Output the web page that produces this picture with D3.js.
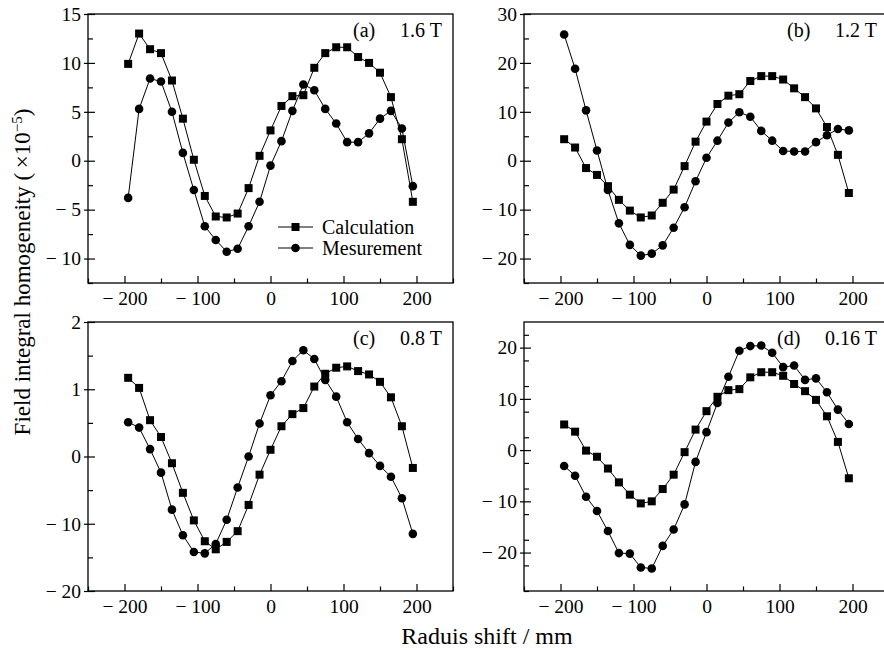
<!DOCTYPE html>
<html>
<head>
<meta charset="utf-8">
<script src="https://cdn.jsdelivr.net/npm/d3@7"></script>
<style>
  html, body { margin: 0; padding: 0; background: #fff; }
  svg { display: block; }
  text { font-family: "Liberation Serif", "Times New Roman", serif; fill: #000; }
</style>
</head>
<body>
<svg id="chart" width="884" height="650"></svg>
<script>
// ---------- Data ----------
const radius = [-195, -180, -165, -150, -135, -120, -105, -90, -75, -60, -45, -30, -15, 0,
                15, 30, 45, 60, 75, 90, 105, 120, 135, 150, 165, 180, 195];

const calcA = [9.9, 13.0, 11.4, 11.0, 8.2, 4.3, 0.1, -3.6, -5.7, -5.8, -5.4, -2.8, 0.5, 3.1,
               5.6, 6.6, 6.7, 9.5, 11.0, 11.6, 11.6, 10.6, 10.0, 9.0, 6.5, 2.2, -4.2];
const measA = [-3.8, 5.3, 8.4, 8.1, 5.0, 0.8, -3.0, -6.7, -8.1, -9.3, -9.0, -6.7, -4.2, -0.5,
               2.0, 5.1, 7.8, 7.2, 5.3, 3.8, 1.9, 1.9, 2.8, 4.3, 5.1, 3.3, -2.6];

const calcB = [4.4, 2.7, -1.5, -2.9, -5.2, -8.0, -10.2, -11.6, -11.2, -8.6, -5.9, -1.1, 3.9, 8.0,
               11.6, 13.3, 13.6, 16.3, 17.3, 17.3, 16.6, 14.8, 13.0, 10.7, 6.9, 1.2, -6.6];
const measB = [25.8, 18.8, 10.3, 2.1, -6.0, -12.8, -17.2, -19.4, -19.0, -17.3, -13.7, -9.5, -4.2, 0.6,
               4.1, 7.8, 9.9, 9.0, 6.1, 4.1, 2.0, 1.9, 1.9, 3.8, 5.2, 6.5, 6.2];

const calcC = [1.17, 1.02, 0.54, 0.29, -0.10, -0.54, -0.95, -1.26, -1.38, -1.27, -1.11, -0.72, -0.27, 0.10,
               0.45, 0.63, 0.72, 1.04, 1.23, 1.32, 1.34, 1.27, 1.22, 1.11, 0.88, 0.45, -0.17];
const measC = [0.51, 0.43, 0.11, -0.24, -0.79, -1.17, -1.42, -1.44, -1.30, -0.94, -0.46, 0.00, 0.49, 0.91,
               1.12, 1.42, 1.58, 1.45, 1.14, 0.89, 0.51, 0.26, 0.05, -0.14, -0.30, -0.62, -1.15];

const calcD = [5.0, 3.6, -0.1, -1.3, -3.6, -6.3, -8.7, -10.4, -10.0, -7.6, -4.8, -0.4, 4.0, 7.6,
               10.4, 11.7, 11.9, 14.2, 15.2, 15.2, 14.5, 12.9, 11.5, 9.8, 6.6, 1.6, -5.5];
const measD = [-3.1, -5.0, -9.1, -11.9, -15.8, -20.1, -20.2, -22.9, -23.1, -18.7, -15.5, -10.6, -2.3, 3.5,
               9.2, 14.3, 19.4, 20.3, 20.4, 19.0, 16.2, 16.5, 13.7, 14.0, 11.3, 7.9, 5.1];

const xTicks = [-200, -100, 0, 100, 200];
const xMinorTicks = [-250, -150, -50, 50, 150, 250];

const yTicksA = [-10, -5, 0, 5, 10, 15];
const yTicksB = [-20, -10, 0, 10, 20, 30];
const yTicksC = [-2, -1, 0, 1, 2];
const yTickLabelsC = ["\u2212 20", "\u2212 10", "0", "1", "2"];   // labels as printed in the figure
const yTicksD = [-20, -10, 0, 10, 20];

const panelTags = ["(a)", "(b)", "(c)", "(d)"];
const fieldLabels = ["1.6 T", "1.2 T", "0.8 T", "0.16 T"];
const seriesNames = ["Calculation", "Mesurement"];

// ---------- Layout ----------
const svg = d3.select("#chart");
const fmt = v => v < 0 ? "\u2212 " + Math.abs(v) : String(v);

const panels = [
  { tag: panelTags[0], field: fieldLabels[0], calc: calcA, meas: measA,
    x0: 88, x1: 453, y0: 14, y1: 283, domain: [-12.5, 15], ticks: yTicksA, minorStep: 2.5,
    labels: yTicksA.map(fmt), tagX: 353, fieldX: 400, legend: true },
  { tag: panelTags[1], field: fieldLabels[1], calc: calcB, meas: measB,
    x0: 524, x1: 889, y0: 14, y1: 283, domain: [-25, 30], ticks: yTicksB, minorStep: 5,
    labels: yTicksB.map(fmt), tagX: 787, fieldX: 835 },
  { tag: panelTags[2], field: fieldLabels[2], calc: calcC, meas: measC,
    x0: 88, x1: 453, y0: 322, y1: 591, domain: [-2, 2], ticks: yTicksC, minorStep: 0.5,
    labels: yTickLabelsC, tagX: 353, fieldX: 400 },
  { tag: panelTags[3], field: fieldLabels[3], calc: calcD, meas: measD,
    x0: 524, x1: 889, y0: 322, y1: 591, domain: [-27.5, 25], ticks: yTicksD, minorStep: 5,
    labels: yTicksD.map(fmt), tagX: 777, fieldX: 825 }
];

const tickFont = 19.5;
const sq = 8, cr = 4.3;

function drawSquare(g, x, y) {
  g.append("rect").attr("x", x - sq / 2).attr("y", y - sq / 2)
    .attr("width", sq).attr("height", sq).attr("fill", "#000");
}
function drawCircle(g, x, y) {
  g.append("circle").attr("cx", x).attr("cy", y).attr("r", cr).attr("fill", "#000");
}

panels.forEach(p => {
  const g = svg.append("g");
  const x = d3.scaleLinear().domain([-250, 250]).range([p.x0, p.x1]);
  const y = d3.scaleLinear().domain(p.domain).range([p.y1, p.y0]);

  // frame
  g.append("rect").attr("x", p.x0).attr("y", p.y0)
    .attr("width", p.x1 - p.x0).attr("height", p.y1 - p.y0)
    .attr("fill", "none").attr("stroke", "#000").attr("stroke-width", 1.3);

  // x axis (inward ticks)
  const xAxis = d3.axisBottom(x).tickValues(xTicks).tickSize(-7).tickFormat(fmt).tickPadding(10);
  const xg = g.append("g").attr("transform", `translate(0,${p.y1})`).call(xAxis);
  xg.select(".domain").remove();
  xg.selectAll("line").attr("stroke", "#000").attr("stroke-width", 1.2);
  xg.selectAll("text").attr("font-size", tickFont).attr("font-family", "Liberation Serif, serif")
    .attr("fill", "#000").attr("dy", "0.72em").attr("y", 8);
  const xm = d3.axisBottom(x).tickValues(xMinorTicks).tickSize(-4.5).tickFormat("");
  const xmg = g.append("g").attr("transform", `translate(0,${p.y1})`).call(xm);
  xmg.select(".domain").remove();
  xmg.selectAll("line").attr("stroke", "#000").attr("stroke-width", 1.2);

  // y axis
  const yAxis = d3.axisLeft(y).tickValues(p.ticks).tickSize(5)
    .tickFormat((d, i) => p.labels[i]).tickPadding(3);
  const yg = g.append("g").attr("transform", `translate(${p.x0},0)`).call(yAxis);
  yg.select(".domain").remove();
  yg.selectAll("line").attr("x2", 7).attr("x1", -4).attr("stroke", "#000").attr("stroke-width", 1.2);
  yg.selectAll("text").attr("font-size", tickFont).attr("font-family", "Liberation Serif, serif")
    .attr("fill", "#000").attr("x", -7);
  const minor = [];
  for (let v = p.domain[0]; v <= p.domain[1] + 1e-9; v += p.minorStep) {
    if (!p.ticks.some(t => Math.abs(t - v) < 1e-9)) minor.push(v);
  }
  const ym = d3.axisLeft(y).tickValues(minor).tickSize(-5).tickFormat("");
  const ymg = g.append("g").attr("transform", `translate(${p.x0},0)`).call(ym);
  ymg.select(".domain").remove();
  ymg.selectAll("line").attr("stroke", "#000").attr("stroke-width", 1.2);

  // series
  const line = d3.line().x((d, i) => x(radius[i])).y(d => y(d));
  g.append("path").datum(p.calc).attr("d", line)
    .attr("fill", "none").attr("stroke", "#000").attr("stroke-width", 1);
  g.append("path").datum(p.meas).attr("d", line)
    .attr("fill", "none").attr("stroke", "#000").attr("stroke-width", 1);
  p.calc.forEach((v, i) => drawSquare(g, x(radius[i]), y(v)));
  p.meas.forEach((v, i) => drawCircle(g, x(radius[i]), y(v)));

  // panel labels
  g.append("text").attr("x", p.tagX).attr("y", p.y0 + 23).attr("font-size", 20).text(p.tag);
  g.append("text").attr("x", p.fieldX).attr("y", p.y0 + 23).attr("font-size", 20).text(p.field);

  // legend
  if (p.legend) {
    const rows = [{ name: seriesNames[0], y: 227, mk: drawSquare },
                  { name: seriesNames[1], y: 248, mk: drawCircle }];
    rows.forEach(r => {
      g.append("line").attr("x1", 278).attr("x2", 313).attr("y1", r.y).attr("y2", r.y)
        .attr("stroke", "#000").attr("stroke-width", 1);
      r.mk(g, 295.5, r.y);
      g.append("text").attr("x", 322).attr("y", r.y).attr("dy", "0.35em")
        .attr("font-size", 20).text(r.name);
    });
  }
});

// axis titles
svg.append("text").attr("x", 487).attr("y", 644).attr("text-anchor", "middle")
  .attr("font-size", 24).text("Raduis shift / mm");

const yl = svg.append("text").attr("transform", "translate(30,272) rotate(-90)")
  .attr("text-anchor", "middle").attr("font-size", 23);
yl.append("tspan").text("Field integral homogeneity (\u2009\u00d710");
yl.append("tspan").attr("dy", -8).attr("font-size", 15).text("\u22125");
yl.append("tspan").attr("dy", 8).text(")");
</script>
</body>
</html>
